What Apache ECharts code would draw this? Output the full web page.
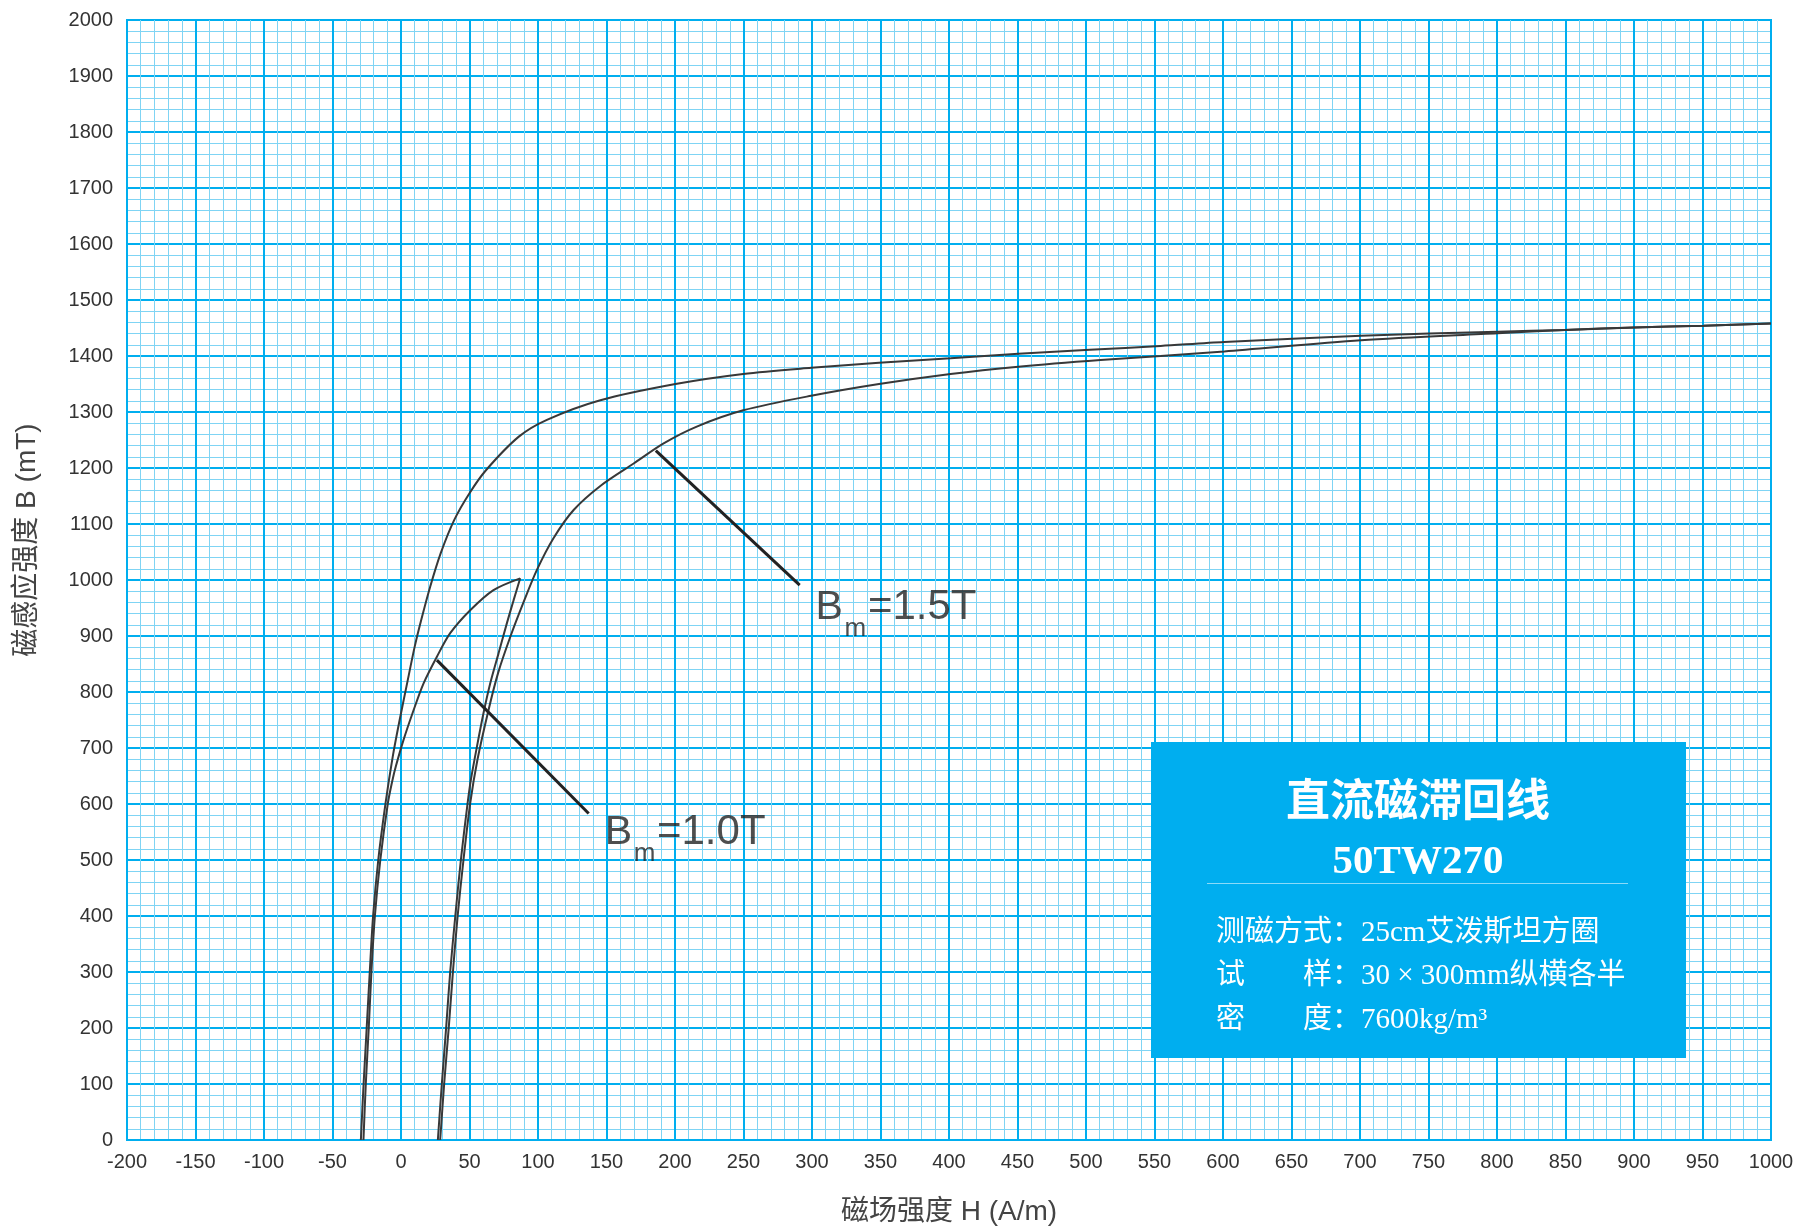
<!DOCTYPE html>
<html>
<head>
<meta charset="utf-8">
<script src="https://cdn.jsdelivr.net/npm/echarts@6/dist/echarts.min.js"></script>
<style>html,body{margin:0;padding:0;background:#fff}#c{width:1799px;height:1228px}</style>
</head>
<body>
<div id="c"></div>
<script>
// ---- data (H in A/m, B in mT) ----
const loop15Upper = [[-29.3,0],[-27.3,100],[-25.0,202],[-22.8,300],[-20.4,399],[-16.6,500],[-11.3,601],[-6.0,685],[-1.0,750],[4.0,810],[10.0,881],[14.8,929],[21.3,988],[29.0,1048],[38.8,1107],[50.0,1155],[62.0,1196],[86.0,1256],[106.5,1286],[145.5,1321],[200.3,1350],[249.8,1368],[299.4,1379],[348.9,1388],[401.1,1396],[450.6,1404],[502.8,1411],[554.5,1418],[600.9,1425],[700.7,1436],[800.4,1443.5],[849.5,1446.5],[900.2,1451],[950.9,1454],[1000,1458]];
const loop15Lower = [[28.6,0],[31.5,100],[34.9,202],[37.9,300],[41.3,399],[45.6,500],[50.5,601],[55.8,679],[63.9,768],[71.0,835],[80.0,900],[89.4,960],[99.2,1018],[111.4,1075],[126.0,1125],[145.5,1168],[169.8,1208],[191.7,1244],[215.9,1274],[249.8,1303],[299.4,1329],[348.9,1350],[401.1,1368],[450.6,1381],[510.6,1393],[554.5,1400],[600.9,1408],[700.7,1428],[800.4,1440.5],[849.5,1446.5],[900.2,1451],[950.9,1454],[1000,1458]];
const loop10Upper = [[-27.4,0],[-25.7,100],[-23.5,202],[-21.6,300],[-19.1,399],[-15.1,500],[-9.6,601],[-6.2,643],[-3.8,667],[1.8,714],[8.4,762],[16.4,815],[26.2,863],[35.9,905],[50.5,946],[67.5,982],[87.0,1003]];
const loop10Lower = [[26.9,0],[29.8,100],[33.0,202],[35.9,300],[39.6,399],[43.7,500],[48.6,601],[51.0,643],[55.4,702],[60.2,762],[65.1,815],[71.2,869],[77.3,923],[82.2,964],[87.0,1003]];
const pointer15 = [[186,1231],[291,991]];
const pointer10 = [[26.2,857],[137,583]];
const labelAnchors = [[303,985],[149,584]];
const labelTexts = ['=1.5T','=1.0T'];
const xName = '磁场强度 H (A/m)';
const yName = '磁感应强度 B (mT)';
const boxTitle = '直流磁滞回线';
const boxModel = '50TW270';
const boxLines = ['测磁方式：25cm艾泼斯坦方圈','试\u3000\u3000样：30 × 300mm纵横各半','密\u3000\u3000度：7600kg/m\u00B3'];

// ---- chart ----
const chart = echarts.init(document.getElementById('c'), null, {renderer:'canvas'});
const major = '#00aeef', minor = '#7fd4f4';
const curveStyle = {color:'#383838', width:2};
function curve(data){
  return {type:'line', data:data, showSymbol:false, symbol:'none', smooth:0.3,
    lineStyle:curveStyle, silent:true, z:3};
}
const sansCJK = '"Liberation Sans","Noto Sans CJK SC"';
const serifCJK = '"Liberation Serif","Noto Sans CJK SC"';
const plain = function(v){return String(v);};
chart.setOption({
  animation:false,
  backgroundColor:'#fff',
  grid:{left:127, right:28, top:20, bottom:88, show:true, borderColor:major, borderWidth:2, outerBoundsMode:'none', containLabel:false},
  xAxis:{type:'value', min:-200, max:1000, interval:50,
    name:xName, nameLocation:'middle', nameGap:58,
    nameTextStyle:{fontSize:28, color:'#444', fontFamily:sansCJK, verticalAlign:'top'},
    axisLine:{show:true, onZero:false, lineStyle:{color:major, width:2}},
    axisTick:{show:false},
    axisLabel:{fontSize:20, color:'#333', margin:12, fontFamily:'"Liberation Sans"', formatter:plain},
    splitLine:{show:true, lineStyle:{color:major, width:2}},
    minorTick:{show:false, splitNumber:5},
    minorSplitLine:{show:true, lineStyle:{color:minor, width:1}}
  },
  yAxis:{type:'value', min:0, max:2000, interval:100,
    name:yName, nameLocation:'middle', nameGap:86, nameRotate:90,
    nameTextStyle:{fontSize:28, color:'#444', fontFamily:sansCJK, padding:[0,0,0,80]},
    axisLine:{show:true, onZero:false, lineStyle:{color:major, width:2}},
    axisTick:{show:false},
    axisLabel:{fontSize:20, color:'#333', margin:14, fontFamily:'"Liberation Sans"', formatter:plain},
    splitLine:{show:true, lineStyle:{color:major, width:2}},
    minorTick:{show:false, splitNumber:5},
    minorSplitLine:{show:true, lineStyle:{color:minor, width:1}}
  },
  series:[
    curve(loop15Upper), curve(loop15Lower), curve(loop10Upper), curve(loop10Lower),
    {type:'line', data:pointer15, showSymbol:false, symbol:'none', lineStyle:{color:'#222', width:3}, silent:true, z:4},
    {type:'line', data:pointer10, showSymbol:false, symbol:'none', lineStyle:{color:'#222', width:3}, silent:true, z:4},
    {type:'scatter', data:labelAnchors, symbolSize:1, itemStyle:{color:'rgba(0,0,0,0)'}, silent:true, z:5,
      label:{show:true, position:[0,0], align:'left', verticalAlign:'top',
        formatter:function(p){return '{b|B}{s| }{e|'+labelTexts[p.dataIndex]+'}';},
        rich:{
          b:{fontSize:41, lineHeight:40, color:'#222', fontFamily:'"Liberation Sans"'},
          s:{fontSize:40, lineHeight:40, width:25, color:'#222', fontFamily:'"Liberation Sans"'},
          e:{fontSize:42, lineHeight:40, color:'#222', fontFamily:'"Liberation Sans"'}
        }}
    },
    {type:'scatter', data:labelAnchors, symbolSize:1, itemStyle:{color:'rgba(0,0,0,0)'}, silent:true, z:5,
      label:{show:true, position:[0,0], align:'left', verticalAlign:'middle', offset:[29,41],
        formatter:'m', fontSize:26, color:'#222', fontFamily:'"Liberation Sans"'}
    }
  ],
  graphic:[
    {type:'rect', z:100, shape:{x:1151, y:742, width:535, height:316}, style:{fill:'#00aeef'}},
    {type:'text', z:101, style:{text:boxTitle, x:1418, y:799, fill:'#fff', font:'bold 44px "Noto Sans CJK SC"', textAlign:'center', textVerticalAlign:'middle', align:'center', verticalAlign:'middle'}},
    {type:'text', z:101, style:{text:boxModel, x:1418, y:862, fill:'#fff', font:'bold 41px "Liberation Serif"', textAlign:'center', textVerticalAlign:'middle', align:'center', verticalAlign:'middle'}},
    {type:'line', z:101, shape:{x1:1207, y1:883.5, x2:1628, y2:883.5}, style:{stroke:'rgba(255,255,255,0.55)', lineWidth:1}},
    {type:'text', z:101, style:{text:boxLines[0], x:1216, y:933, fill:'#fff', font:'29px '+serifCJK, textAlign:'left', textVerticalAlign:'middle', align:'left', verticalAlign:'middle'}},
    {type:'text', z:101, style:{text:boxLines[1], x:1216, y:976, fill:'#fff', font:'29px '+serifCJK, textAlign:'left', textVerticalAlign:'middle', align:'left', verticalAlign:'middle'}},
    {type:'text', z:101, style:{text:boxLines[2], x:1216, y:1020, fill:'#fff', font:'29px '+serifCJK, textAlign:'left', textVerticalAlign:'middle', align:'left', verticalAlign:'middle'}}
  ]
});
</script>
</body>
</html>
